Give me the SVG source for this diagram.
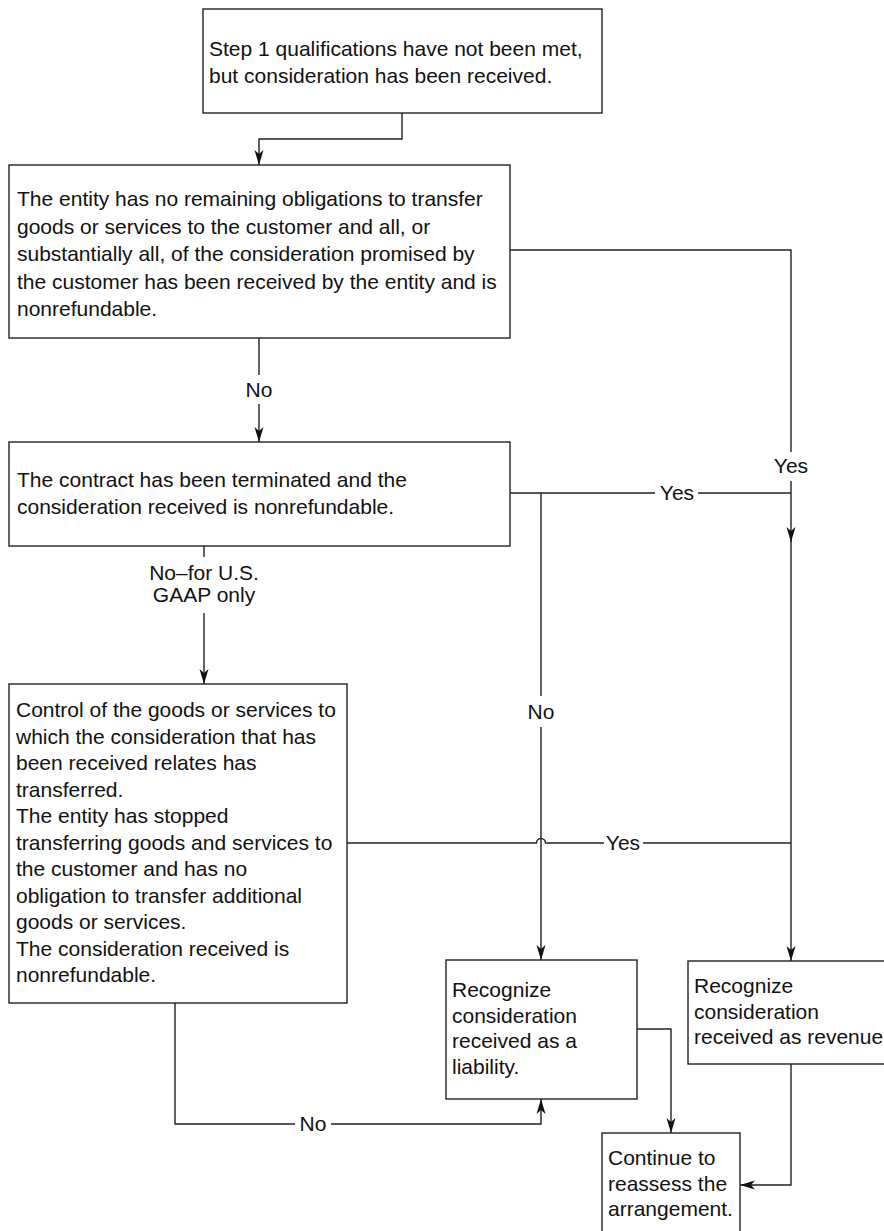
<svg xmlns="http://www.w3.org/2000/svg" width="884" height="1231" viewBox="0 0 884 1231">
<style>
.box{fill:#fff;stroke:#222;stroke-width:1.4}
.t{font-family:"Liberation Sans",Arial,sans-serif;font-size:21px;fill:#111}
.lbl{font-family:"Liberation Sans",Arial,sans-serif;font-size:21px;fill:#111;text-anchor:middle}
.c{fill:none;stroke:#222;stroke-width:1.4}
</style>
<defs>
<marker id="ah" markerUnits="userSpaceOnUse" markerWidth="16" markerHeight="10" refX="15" refY="5" orient="auto">
<path d="M0,0.5 L15,5 L0,9.5 L4,5 Z" fill="#111"/>
</marker>
</defs>
<rect width="884" height="1231" fill="#fff"/>
<g id="connectors">
<path class="c" d="M402,113 V139 H259 V165" marker-end="url(#ah)"/>
<path class="c" d="M259,338 V375"/>
<path class="c" d="M259,404 V442" marker-end="url(#ah)"/>
<path class="c" d="M204,546 V557"/>
<path class="c" d="M204,613 V684" marker-end="url(#ah)"/>
<path class="c" d="M510,250 H791 V452"/>
<path class="c" d="M791,481 V542" marker-end="url(#ah)"/>
<path class="c" d="M791,540 V961" marker-end="url(#ah)"/>
<path class="c" d="M510,493 H655"/>
<path class="c" d="M698,493 H791"/>
<path class="c" d="M541,493 V696"/>
<path class="c" d="M541,727 V960" marker-end="url(#ah)"/>
<path class="c" d="M347,843 H536.5 A4.5,4.5 0 0 1 545.5,843 H604"/>
<path class="c" d="M643,843 H791"/>
<path class="c" d="M175,1003 V1124 H295"/>
<path class="c" d="M331,1124 H541 V1099" marker-end="url(#ah)"/>
<path class="c" d="M637,1029 H671 V1133" marker-end="url(#ah)"/>
<path class="c" d="M791,1064 V1185 H740" marker-end="url(#ah)"/>
<text class="lbl" x="259" y="397">No</text>
<text class="lbl" x="204" y="580">No–for U.S.</text>
<text class="lbl" x="204" y="602">GAAP only</text>
<text class="lbl" x="791" y="473">Yes</text>
<text class="lbl" x="677" y="500">Yes</text>
<text class="lbl" x="541" y="719">No</text>
<text class="lbl" x="623" y="850">Yes</text>
<text class="lbl" x="313" y="1131">No</text>
</g>
<g id="n1">
<rect class="box" x="203" y="9" width="399" height="104"/>
<text class="t" x="209" y="56">Step 1 qualifications have not been met,</text>
<text class="t" x="209" y="83">but consideration has been received.</text>
</g>
<g id="n2">
<rect class="box" x="9" y="165" width="501" height="173"/>
<text class="t" x="17" y="206">The entity has no remaining obligations to transfer</text>
<text class="t" x="17" y="233.5">goods or services to the customer and all, or</text>
<text class="t" x="17" y="261">substantially all, of the consideration promised by</text>
<text class="t" x="17" y="288.5">the customer has been received by the entity and is</text>
<text class="t" x="17" y="316">nonrefundable.</text>
</g>
<g id="n3">
<rect class="box" x="9" y="442" width="501" height="104"/>
<text class="t" x="17" y="487">The contract has been terminated and the</text>
<text class="t" x="17" y="514">consideration received is nonrefundable.</text>
</g>
<g id="n4">
<rect class="box" x="9" y="684" width="338" height="319"/>
<text class="t" x="16" y="717">Control of the goods or services to</text>
<text class="t" x="16" y="743.5">which the consideration that has</text>
<text class="t" x="16" y="770">been received relates has</text>
<text class="t" x="16" y="796.5">transferred.</text>
<text class="t" x="16" y="823">The entity has stopped</text>
<text class="t" x="16" y="849.5">transferring goods and services to</text>
<text class="t" x="16" y="876">the customer and has no</text>
<text class="t" x="16" y="902.5">obligation to transfer additional</text>
<text class="t" x="16" y="929">goods or services.</text>
<text class="t" x="16" y="955.5">The consideration received is</text>
<text class="t" x="16" y="982">nonrefundable.</text>
</g>
<g id="n5">
<rect class="box" x="446" y="960" width="191" height="139"/>
<text class="t" x="452" y="997">Recognize</text>
<text class="t" x="452" y="1022.5">consideration</text>
<text class="t" x="452" y="1048">received as a</text>
<text class="t" x="452" y="1073.5">liability.</text>
</g>
<g id="n6">
<rect class="box" x="688" y="961" width="200" height="103"/>
<text class="t" x="694" y="993">Recognize</text>
<text class="t" x="694" y="1018.5">consideration</text>
<text class="t" x="694" y="1044">received as revenue.</text>
</g>
<g id="n7">
<rect class="box" x="602" y="1133" width="138" height="110"/>
<text class="t" x="608" y="1165">Continue to</text>
<text class="t" x="608" y="1190.5">reassess the</text>
<text class="t" x="608" y="1216">arrangement.</text>
</g>
</svg>
